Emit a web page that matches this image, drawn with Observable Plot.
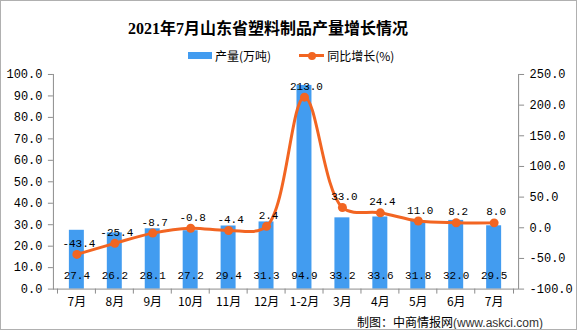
<!DOCTYPE html>
<html>
<head>
<meta charset="utf-8">
<script src="https://cdn.jsdelivr.net/npm/d3@7"></script>
<script src="https://cdn.jsdelivr.net/npm/@observablehq/plot@0.6"></script>
<style>
  html, body { margin: 0; padding: 0; background: #fff; }
  #wrap { position: relative; width: 575px; height: 328px; border: 1px solid #b0b0b0; overflow: hidden; background: #fff; }
  #title { position: absolute; left: 0; width: 534px; top: 14px; text-align: center; font: bold 16px "Liberation Serif", "Noto Sans CJK SC", serif; color: #000; }
  #legend { position: absolute; top: 46px; left: 187px; font: 12px "Noto Sans CJK SC", sans-serif; color: #000; display: flex; align-items: center; }
  #legend .sw { display: inline-block; width: 24px; height: 7px; background: #429CF0; margin-right: 3px; }
  #legend .ln { position: relative; display: inline-block; width: 25px; height: 3px; background: #F26522; margin: 0 3px 0 28px; }
  #legend .ln::after { content: ""; position: absolute; left: 9px; top: -2.5px; width: 8px; height: 8px; border-radius: 50%; background: #F26522; }
  #plot { position: absolute; left: -1px; top: 59px; }
  #caption { position: absolute; top: 312px; left: 356px; font: 12px "Noto Sans CJK SC", sans-serif; color: #000; white-space: nowrap; }
  #caption .en { font-family: "Liberation Sans", sans-serif; color: #333; }
</style>
</head>
<body>
<div id="wrap">
  <div id="title">2021年7月山东省塑料制品产量增长情况</div>
  <div id="legend"><span class="sw"></span><span>产量(万吨)</span><span class="ln"></span><span>同比增长(%)</span></div>
  <div id="plot"></div>
  <div id="caption">制图：中商情报网<span class="en">(www.askci.com)</span></div>
</div>
<script>
const months = ["7月", "8月", "9月", "10月", "11月", "12月", "1-2月", "3月", "4月", "5月", "6月", "7月"];
const output = [27.4, 26.2, 28.1, 27.2, 29.4, 31.3, 94.9, 33.2, 33.6, 31.8, 32.0, 29.5];
const growth = [-43.4, -25.4, -8.7, -0.8, -4.4, 2.4, 213.0, 33.0, 24.4, 11.0, 8.2, 8.0];
const leftTicks = [0, 10, 20, 30, 40, 50, 60, 70, 80, 90, 100];
const rightTicks = [-100, -50, 0, 50, 100, 150, 200, 250];

const rightMin = -100, rightMax = 250;
const toLeft = g => (g - rightMin) / (rightMax - rightMin) * 100;
const fromLeft = v => v / 100 * (rightMax - rightMin) + rightMin;

const W = 577, H = 260, mL = 53, mR = 58;
const step = (W - mL - mR) / months.length;
const idx = d3.range(months.length);
const BLUE = "#429CF0", ORANGE = "#F26522", AXIS = "#8c8c8c";
const monoFont = "\"Liberation Mono\", \"Noto Sans CJK SC\", monospace";

const plot = Plot.plot({
  width: W,
  height: H,
  marginTop: 14,
  marginBottom: 31,
  marginLeft: mL,
  marginRight: mR,
  style: { fontFamily: monoFont, fontSize: "12px", color: "#000", background: "transparent" },
  x: { type: "band", domain: idx, paddingInner: 0.6, paddingOuter: 0.3 },
  y: { domain: [0, 100] },
  marks: [
    Plot.barY(idx, { x: i => i, y: i => output[i], fill: BLUE }),
    Plot.frame({ anchor: "left", stroke: AXIS }),
    Plot.frame({ anchor: "right", stroke: AXIS }),
    Plot.ruleY([0], { stroke: AXIS }),
    Plot.axisY(leftTicks, { anchor: "left", tickSize: 5, tickPadding: 6, stroke: AXIS, tickFormat: d => d.toFixed(1), label: null, fontSize: 12 }),
    Plot.axisY(rightTicks.map(toLeft), { anchor: "right", tickSize: 5, tickPadding: 6, stroke: AXIS, tickFormat: d => (Math.round(fromLeft(d) * 10) / 10 + 0).toFixed(1), label: null, fontSize: 12 }),
    Plot.axisX(idx, { anchor: "bottom", tickSize: 5, dx: -step / 2, stroke: AXIS, tickFormat: () => "", label: null }),
    Plot.axisX([idx[idx.length - 1]], { anchor: "bottom", tickSize: 5, dx: step / 2, stroke: AXIS, tickFormat: () => "", label: null }),
    Plot.axisX(idx, { anchor: "bottom", tickSize: 0, tickPadding: 8, tickFormat: i => months[i], label: null, fontFamily: "\"Noto Sans CJK SC\", sans-serif", fontSize: 12 }),
    Plot.line(idx, { x: i => i, y: i => toLeft(growth[i]), stroke: ORANGE, strokeWidth: 3, curve: "catmull-rom" }),
    Plot.dot(idx, { x: i => i, y: i => toLeft(growth[i]), r: 4.5, fill: ORANGE, stroke: "none" }),
    Plot.text(idx, { x: i => i, y: 0, text: i => output[i].toFixed(1), dy: -14, fontSize: 11, fill: "#000" }),
    Plot.text(idx, { x: i => i, y: i => toLeft(growth[i]), text: i => growth[i].toFixed(1), dy: -11, dx: 2, fontSize: 11, fill: "#000" })
  ]
});
document.getElementById("plot").appendChild(plot);
</script>
</body>
</html>
